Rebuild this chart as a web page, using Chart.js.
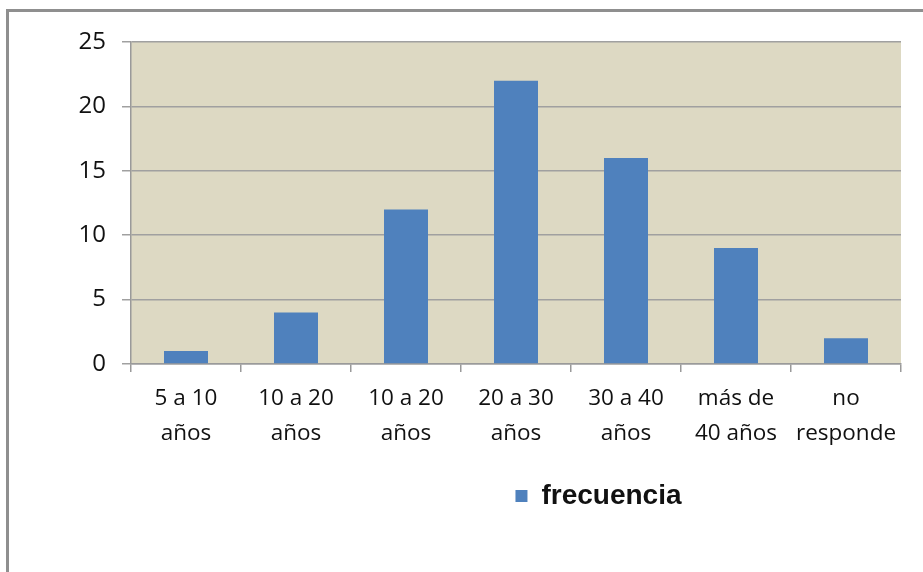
<!DOCTYPE html>
<html>
<head>
<meta charset="utf-8">
<script src="https://cdn.jsdelivr.net/npm/chart.js@4/dist/chart.umd.min.js"></script>
<style>
  html, body { margin: 0; padding: 0; background: #fff; overflow: hidden; }
  #wrap { position: relative; width: 923px; height: 572px; }
  /* grey frame, only top and left edges fall inside the window */
  #frame { position: absolute; left: 6px; top: 9px; width: 1000px; height: 1000px;
           border: 3px solid #8f8f8f; box-sizing: border-box; }
  #chart { position: absolute; left: 0; top: 0; }
</style>
</head>
<body>
<div id="wrap">
  <div id="frame"></div>
  <canvas id="chart" width="923" height="572"></canvas>
</div>
<script>
// age groups (two lines each) and how many answered each one
const categories = [
    ['5 a 10', 'años'],
    ['10 a 20', 'años'],
    ['10 a 20', 'años'],
    ['20 a 30', 'años'],
    ['30 a 40', 'años'],
    ['más de', '40 años'],
    ['no', 'responde']
];
const frecuencia = [1, 4, 12, 22, 16, 9, 2];
const seriesName = 'frecuencia';
const yTicks = [0, 5, 10, 15, 20, 25];

const tickFont = { family: 'Open Sans', size: 22.5, lineHeight: 1.55 };

// beige fill behind the bars
const plotBg = {
    id: 'plotBg',
    beforeDraw(chart) {
        const a = chart.chartArea;
        const ctx = chart.ctx;
        ctx.save();
        ctx.fillStyle = '#ddd9c3';
        ctx.fillRect(a.left, a.top, a.right - a.left, a.bottom - a.top);
        ctx.restore();
    }
};

// push the legend to the right so it sits under the middle of the plot
const legendShift = {
    id: 'legendShift',
    afterLayout(chart) {
        chart.legend.left += 148;
        chart.legend.right += 148;
    }
};

new Chart(document.getElementById('chart').getContext('2d'), {
    type: 'bar',
    data: {
        labels: categories,
        datasets: [{
            label: seriesName,
            data: frecuencia,
            backgroundColor: '#4f81bd',
            borderWidth: 0,
            barPercentage: 0.4,
            categoryPercentage: 1
        }]
    },
    options: {
        responsive: false,
        animation: false,
        layout: { padding: { left: 0, top: 42, right: 22, bottom: 52 } },
        scales: {
            x: {
                afterFit(scale) { scale.height = 110; },
                grid: {
                    offset: true,
                    drawOnChartArea: false,
                    tickLength: 8,
                    color: '#9a9a9a',
                    lineWidth: 1.5
                },
                border: { color: '#9a9a9a', width: 1.5 },
                ticks: { color: '#111', font: tickFont, padding: 9, maxRotation: 0, autoSkip: false }
            },
            y: {
                min: 0,
                max: 25,
                afterFit(scale) { scale.width = 131; },
                afterBuildTicks(scale) { scale.ticks = yTicks.map(v => ({ value: v })); },
                grid: { color: '#a0a0a0', lineWidth: 1.5, tickLength: 9 },
                border: { color: '#9a9a9a', width: 1.5 },
                ticks: { color: '#111', font: { family: 'Open Sans', size: 24 }, padding: 16 }
            }
        },
        plugins: {
            legend: {
                position: 'bottom',
                labels: {
                    color: '#111',
                    font: { family: 'Liberation Sans', size: 28, weight: 'bold' },
                    boxWidth: 12,
                    boxHeight: 12,
                    padding: 8
                }
            },
            tooltip: { enabled: false }
        }
    },
    plugins: [plotBg, legendShift]
});
</script>
</body>
</html>
